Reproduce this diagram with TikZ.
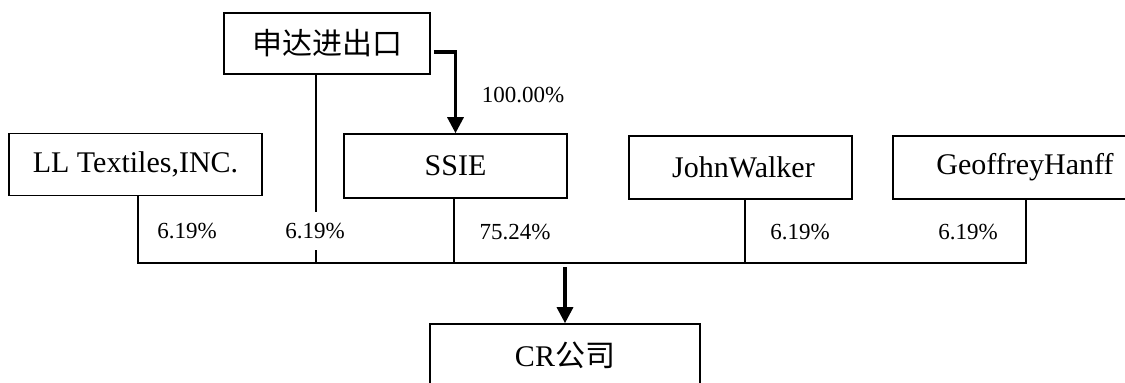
\documentclass[tikz,border=0pt]{standalone}
\usepackage{fontspec}
\setmainfont{Liberation Serif}
\newfontfamily\cjk{Noto Sans CJK SC}
\usetikzlibrary{arrows.meta,calc}
\tikzstyle{box}=[rectangle,draw=black,line width=1.6pt,inner sep=0pt,
  font=\fontsize{30}{36}\selectfont]
\tikzstyle{pct}=[inner sep=0pt,font=\fontsize{23}{27}\selectfont]
\tikzstyle{own}=[line width=3.2pt,-{Triangle[width=16pt,length=16pt]}]

\begin{document}
\begin{tikzpicture}[x=1pt, y=-1pt, line width=1.6pt]
        \clip (0,0) rectangle (1125,383);
        \fill[white] (0,0) rectangle (1125,383);
        \node[box,minimum width=206pt,minimum height=61pt] (sd) at (327,43.5) {\cjk 申达进出口};
		\node[box,minimum width=253pt,minimum height=62pt] (ll) at (135.5,164.5) {LL Textiles,INC.};
		\node[box,minimum width=223pt,minimum height=64pt] (ssie) at (455.5,166) {SSIE};
		\node[box,minimum width=223pt,minimum height=63pt] (jw) at (740.5,167.5) {\hspace*{6pt}JohnWalker};
		\node[box,minimum width=264pt,minimum height=63pt] (gh) at (1025,167.5) {GeoffreyHanff};
		\node[box,minimum width=270pt,minimum height=62pt] (cr) at (565,355) {CR{\cjk 公司}};
        % bus points
		\coordinate (b1) at (138,263);
		\coordinate (b2) at (316,263);
		\coordinate (b3) at (454,263);
		\coordinate (b4) at (745,263);
		\coordinate (b5) at (1026,263);
		\coordinate (top) at (565,267);
        \draw (ll.south -| b1) to (b1) to (b5) to (gh.south -| b5);
		\draw (sd.south -| b2) to (b2);
		\draw (ssie.south -| b3) to (b3);
		\draw (jw.south -| b4) to (b4);
		\draw[own] ([shift={(3,8.5)}]sd.east) -| (ssie.north);
		\draw[own] (top) to (cr.north);
        \node[pct] (p0) at (523,95) {100.00\%};
		\node[pct] (p1) at (187,231) {6.19\%};
		\node[pct,fill=white,minimum height=38pt] (p2) at (315,231) {6.19\%};
		\node[pct] (p3) at (515,232) {75.24\%};
		\node[pct] (p4) at (800,232) {6.19\%};
		\node[pct] (p5) at (968,232) {6.19\%};
    \end{tikzpicture}
\end{document}
